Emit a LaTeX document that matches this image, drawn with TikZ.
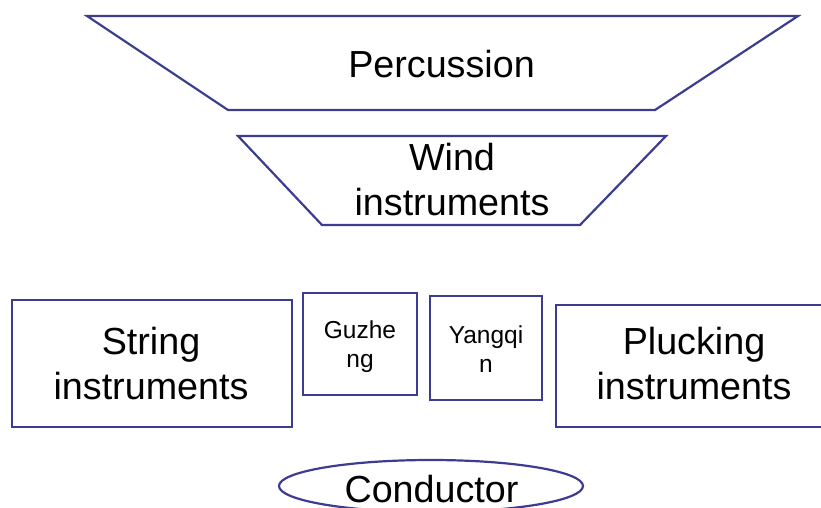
\documentclass[tikz,border=0pt]{standalone}
\usepackage{fontspec}
\setmainfont{Liberation Sans}
\usetikzlibrary{shapes.geometric}
\definecolor{edgeblue}{RGB}{60,60,145}
\begin{document}
\begin{tikzpicture}[x=1pt,y=-1pt,
  shapeline/.style={draw=edgeblue,line width=2.2pt,line join=miter},
  bigtext/.style={font=\fontsize{37.7}{45}\selectfont,align=center,inner sep=0pt,text=black},
  smalltext/.style={font=\fontsize{24.5}{29.5}\selectfont,align=center,inner sep=0pt,text=black}]
\useasboundingbox (0,0) rectangle (821,507);
% Percussion
\draw[shapeline] (87,16) -- (798,16) -- (655,110) -- (228,110) -- cycle;
\node[bigtext,anchor=base] (perc) at (441.5,77) {Percussion};
% Wind
\draw[shapeline] (238,136) -- (666,136) -- (580,225) -- (322,225) -- cycle;
\node[bigtext,anchor=base] (wind) at (452,215) {Wind\\instruments};
% String
\draw[shapeline] (12,300) rectangle (292,427);
\node[bigtext,anchor=base] (string) at (151,399) {String\\instruments};
% Guzheng
\draw[shapeline] (303,293) rectangle (417,395);
\node[smalltext,anchor=base] (guzheng) at (360,367.5) {Guzhe\\ng};
% Yangqin
\draw[shapeline] (430,296) rectangle (542,400);
\node[smalltext,anchor=base] (yangqin) at (486,372.5) {Yangqi\\n};
% Plucking
\draw[shapeline] (556,305) rectangle (830,427);
\node[bigtext,anchor=base] (pluck) at (694,399) {Plucking\\instruments};
% Conductor
\draw[shapeline] (431,486) ellipse [x radius=152, y radius=26];
\node[bigtext,anchor=base] (cond) at (431.5,502) {Conductor};
\end{tikzpicture}
\end{document}
